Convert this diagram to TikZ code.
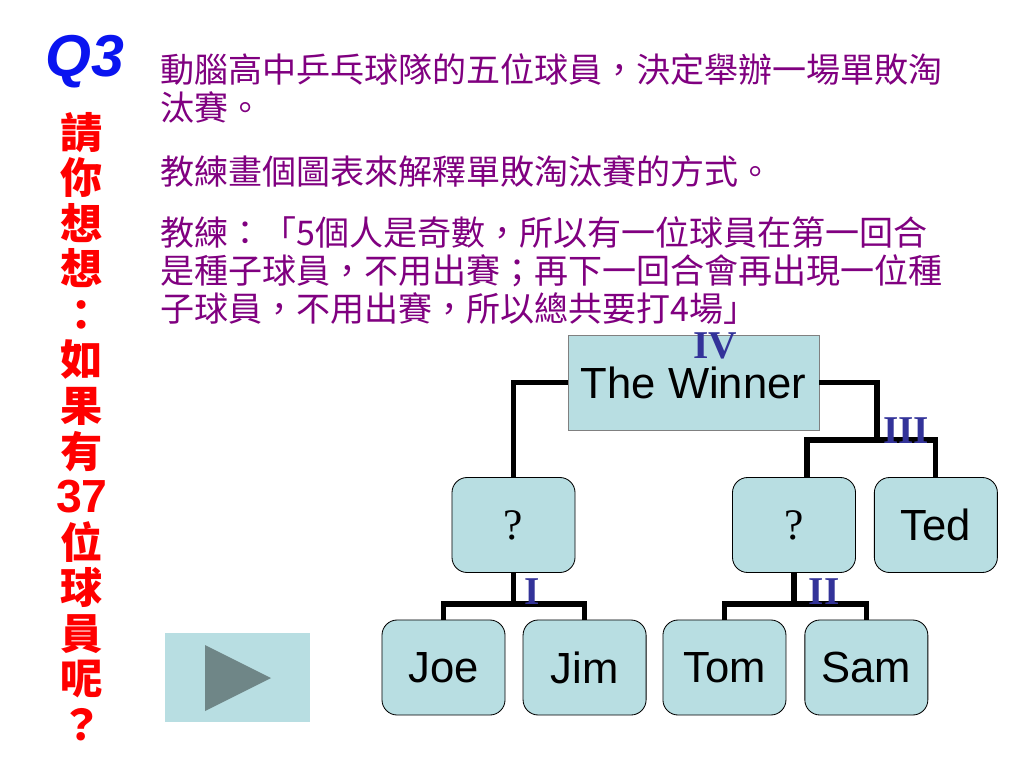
\documentclass[tikz,border=0pt]{standalone}
\usepackage{fontspec}
\usepackage{xcolor}
\setmainfont{Liberation Sans}
\newfontfamily\cjk{Noto Sans CJK TC}
\newfontfamily\romanfont{Liberation Serif}
\usetikzlibrary{positioning}
\definecolor{boxblue}{HTML}{B8DEE2}
\definecolor{lessonpurple}{HTML}{800080}
\definecolor{askred}{HTML}{FF0000}
\definecolor{qblue}{HTML}{0A14F0}
\definecolor{roundblue}{HTML}{333399}
\definecolor{arrowgray}{HTML}{6F8687}
\begin{document}
\begin{tikzpicture}[x=0.025cm, y=-0.025cm,
	player/.style = {draw=black, line width=0.6pt, rounded corners=0.38cm, fill=boxblue, minimum width=3.075cm, minimum height=2.375cm, inner sep=0pt, font=\fontsize{31}{31}\selectfont},
	winbox/.style = {draw=gray, line width=0.6pt, fill=boxblue, minimum width=6.275cm, minimum height=2.375cm, inner sep=0pt, font=\fontsize{31}{31}\selectfont},
	link/.style = {line width=3.6pt},
	roundlabel/.style = {text=roundblue, inner sep=0pt, font=\romanfont\bfseries\fontsize{28}{28}\selectfont},
	lesson/.style = {anchor=base west, inner sep=0pt, text=lessonpurple, font=\cjk\fontsize{24.2}{24.2}\selectfont}]
		\useasboundingbox[fill=white] (0,0) rectangle (1024,768);

		\node (q3) [text=qblue, inner sep=0pt, font=\bfseries\itshape\fontsize{42}{42}\selectfont] at (85,62) {Q3};
		\node (ask) [align=center, text=askred, inner sep=0pt, font=\cjk\bfseries\fontsize{30}{32.4}\selectfont] at (82,426.5)
			{請\\你\\想\\想\\：\\如\\果\\有\\{\rmfamily\bfseries\fontsize{33}{32.4}\selectfont 37}\\位\\球\\員\\呢\\？};

		\node[lesson] (l1) at (160,83) {動腦高中乒乓球隊的五位球員，決定舉辦一場單敗淘};
		\node[lesson] (l2) at (160,121) {汰賽。};
		\node[lesson] (l3) at (160,185) {教練畫個圖表來解釋單敗淘汰賽的方式。};
		\node[lesson] (l4) at (160,245) {教練：「5個人是奇數，所以有一位球員在第一回合};
		\node[lesson] (l5) at (160,283) {是種子球員，不用出賽；再下一回合會再出現一位種};
		\node[lesson] (l6) at (160,321) {子球員，不用出賽，所以總共要打4場」};

		\node[winbox] (win) at (693.5,382.5) {\raisebox{-2pt}{The Winner}};
		\node[player] (q1) at (513.5,525) {\romanfont ?};
		\node[player] (q2) at (794,525) {\romanfont ?};
		\node[player] (ted) [right=0.45cm of q2] {Ted};
		\node[player] (joe) at (443.5,667.5) {Joe};
		\node[player] (jim) [right=0.43cm of joe] {Jim};
		\node[player] (tom) [right=0.4cm of jim] {Tom};
		\node[player] (sam) [right=0.45cm of tom] {Sam};

		\coordinate (j1) at (513.5,604);
		\coordinate (j2) at (794,604);
		\coordinate (j3) at (877,440);

		\draw[link] (win.west) -| (q1.north);
		\draw[link] (win.east) -| (j3);
		\draw[link] ([xshift=0.325cm]q2.north) |- (j3) -| (ted.north);
		\draw[link] (q1.south) -- (j1);
		\draw[link] (joe.north) |- (j1) -| (jim.north);
		\draw[link] (q2.south) -- (j2);
		\draw[link] (tom.north) |- (j2) -| (sam.north);

		\node[roundlabel] (r4) at (715,346) {IV};
		\node[roundlabel] (r3) at (906,431) {III};
		\node[roundlabel] (r1) at (532,592) {I};
		\node[roundlabel] (r2) at (824,592) {II};

		\node (play) [fill=boxblue, minimum width=3.625cm, minimum height=2.225cm, inner sep=0pt] at (237.5,677.5) {};
		\fill[arrowgray] (205,645) -- (205,711) -- (271,678) -- cycle;
	\end{tikzpicture}
\end{document}
